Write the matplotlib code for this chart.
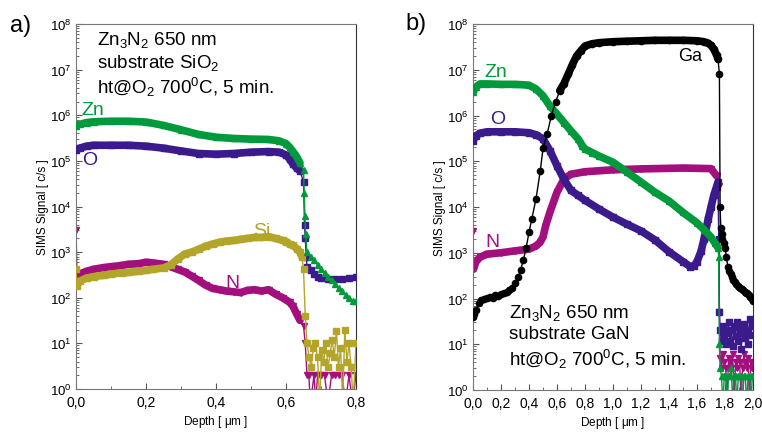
import matplotlib
matplotlib.use('Agg')
import matplotlib.pyplot as plt
from matplotlib.ticker import MultipleLocator, LogLocator, NullFormatter
import numpy as np

plt.rcParams['font.family'] = ['Liberation Sans', 'DejaVu Sans']
plt.rcParams['mathtext.fontset'] = 'custom'
plt.rcParams['mathtext.rm'] = 'Liberation Sans'
plt.rcParams['mathtext.it'] = 'Liberation Sans'
plt.rcParams['mathtext.default'] = 'regular'

# ---------------- panel a) : Zn3N2 on SiO2 ----------------
zn_a_depth = [0.0, 0.01, 0.03, 0.05, 0.1, 0.15, 0.2, 0.25, 0.3, 0.35, 0.4, 0.45, 0.5, 0.55,
              0.58, 0.6, 0.61, 0.62, 0.63, 0.64, 0.65, 0.652, 0.654, 0.656, 0.66, 0.67, 0.68,
              0.69, 0.7, 0.71, 0.72, 0.73, 0.74, 0.75, 0.76, 0.77, 0.78, 0.79, 0.8]
zn_a = [5.9e5, 6.3e5, 6.9e5, 7.2e5, 7.4e5, 7.4e5, 7.1e5, 6.0e5, 4.8e5, 3.8e5, 3.3e5, 3.1e5,
        3.0e5, 2.95e5, 2.75e5, 2.4e5, 2.0e5, 1.6e5, 1.25e5, 9e4, 6.3e4, 2e4, 6.3e3, 2.5e3,
        1.0e3, 800, 660, 520, 420, 350, 280, 240, 200, 160, 140, 115, 100, 85, 83]

o_a_depth = [0.0, 0.01, 0.03, 0.05, 0.1, 0.15, 0.2, 0.25, 0.3, 0.35, 0.4, 0.45, 0.5, 0.55,
             0.58, 0.6, 0.61, 0.62, 0.63, 0.64, 0.65, 0.653, 0.655, 0.658, 0.66, 0.67, 0.68,
             0.69, 0.7, 0.72, 0.74, 0.76, 0.78, 0.8]
o_a = [1.7e5, 1.9e5, 2.1e5, 2.2e5, 2.2e5, 2.2e5, 2.1e5, 1.9e5, 1.65e5, 1.45e5, 1.4e5, 1.45e5,
       1.55e5, 1.6e5, 1.55e5, 1.35e5, 1.1e5, 8.5e4, 7e4, 6e4, 3.5e4, 4e3, 2e3, 800, 480, 400,
       330, 290, 270, 260, 255, 260, 270, 285]

n_a_depth = [0.0, 0.003, 0.01, 0.03, 0.05, 0.08, 0.1, 0.13, 0.15, 0.18, 0.2, 0.22, 0.25, 0.27,
             0.29, 0.31, 0.33, 0.35, 0.37, 0.39, 0.41, 0.43, 0.45, 0.47, 0.49, 0.51, 0.53,
             0.55, 0.57, 0.59, 0.61, 0.62, 0.63, 0.64, 0.65, 0.655,
             0.66, 0.665, 0.67, 0.68, 0.685, 0.69, 0.7, 0.71, 0.72, 0.73, 0.74, 0.75, 0.76,
             0.77, 0.78, 0.79, 0.8]
n_a = [3000, 280, 330, 380, 420, 460, 480, 510, 540, 560, 600, 580, 540, 480, 420, 370, 300,
       240, 190, 160, 150, 140, 135, 130, 145, 150, 140, 150, 120, 100, 80, 65, 45, 32, 24, 10,
       2, 2, 0.5, 2, 0.5, 2, 2, 2, 0.5, 2, 2, 2, 2, 0.5, 2, 0.5, 2]

si_a_depth = [0.0, 0.003, 0.01, 0.03, 0.05, 0.08, 0.1, 0.13, 0.15, 0.18, 0.2, 0.22, 0.25,
              0.27, 0.29, 0.31, 0.33, 0.35, 0.37, 0.39, 0.41, 0.43, 0.45, 0.47, 0.49, 0.51,
              0.53, 0.55, 0.57, 0.59, 0.6, 0.61, 0.62, 0.63, 0.64, 0.645, 0.65, 0.655,
              0.66, 0.666, 0.672, 0.678, 0.684, 0.69, 0.696, 0.702, 0.708, 0.714, 0.72, 0.726,
              0.732, 0.738, 0.744, 0.75, 0.756, 0.762, 0.768, 0.774, 0.78, 0.786, 0.792, 0.8]
si_a = [430, 180, 230, 270, 290, 310, 330, 350, 360, 380, 400, 420, 450, 520, 700, 900, 1000,
        1150, 1350, 1500, 1650, 1750, 1800, 1900, 2000, 2100, 2100, 2200, 2000, 1800, 1700,
        1500, 1400, 1200, 1000, 800, 420, 40,
        10, 5, 3, 8, 10, 5, 0.5, 7, 4, 10, 3, 6, 12, 5, 19, 3, 8, 0.5, 20, 4, 10, 3, 0.5, 10]

# ---------------- panel b) : Zn3N2 on GaN ----------------
ga_b_depth = [0.0, 0.01, 0.02, 0.04, 0.06, 0.08, 0.1, 0.12, 0.14, 0.16, 0.18, 0.2, 0.22, 0.24,
              0.26, 0.28, 0.3, 0.32, 0.34, 0.36, 0.38, 0.4, 0.42, 0.45, 0.48, 0.5, 0.53, 0.56,
              0.59, 0.62, 0.65, 0.68, 0.71, 0.74, 0.77, 0.8, 0.85, 0.9, 1.0, 1.1, 1.2, 1.3,
              1.4, 1.5, 1.6, 1.65, 1.68, 1.7, 1.72, 1.74, 1.75, 1.76, 1.765, 1.77, 1.775, 1.78,
              1.79, 1.8, 1.81, 1.82, 1.83, 1.84, 1.85, 1.86, 1.87, 1.88, 1.89, 1.9, 1.91, 1.92,
              1.93, 1.94, 1.95, 1.96, 1.97, 1.98, 1.99, 2.0]
ga_b = [40, 45, 55, 80, 95, 100, 105, 110, 105, 120, 115, 125, 130, 140, 150, 170, 220, 290,
        420, 700, 1300, 2800, 5500, 1.5e4, 6e4, 1.9e5, 4e5, 1e6, 2e6, 3.5e6, 5e6, 8e6, 1.3e7,
        2e7, 2.6e7, 3.3e7, 3.7e7, 3.9e7, 4.1e7, 4.2e7, 4.3e7, 4.4e7, 4.4e7, 4.4e7, 4.3e7,
        4.1e7, 3.8e7, 3.4e7, 2.8e7, 2.1e7, 1.7e7, 8e6, 1e4, 3500, 2600, 2000, 1600, 1300, 800,
        500, 400, 350, 300, 260, 230, 210, 190, 180, 170, 160, 150, 140, 135, 130, 120, 110,
        100, 90]

zn_b_depth = [0.0, 0.02, 0.05, 0.1, 0.2, 0.3, 0.4, 0.45, 0.5, 0.55, 0.6, 0.65, 0.7, 0.75,
              0.77, 0.78, 0.8, 0.85, 0.9, 1.0, 1.1, 1.2, 1.3, 1.4, 1.5, 1.6, 1.65, 1.7, 1.73,
              1.75, 1.755, 1.76,
              1.765, 1.775, 1.785, 1.795, 1.805, 1.815, 1.825, 1.835, 1.845, 1.855, 1.865,
              1.875, 1.885, 1.895, 1.905, 1.915, 1.925, 1.935, 1.945, 1.955, 1.965, 1.975,
              1.985, 1.995]
zn_b = [3.2e6, 4.2e6, 4.9e6, 4.9e6, 4.8e6, 4.8e6, 4.6e6, 3.8e6, 2.7e6, 1.6e6, 1.07e6, 7e5,
        4.6e5, 3.1e5, 2.5e5, 2.2e5, 1.85e5, 1.55e5, 1.3e5, 9.5e4, 5.8e4, 3.5e4, 2.1e4,
        1.35e4, 7.6e3, 4.5e3, 3.2e3, 2.2e3, 1.6e3, 1.3e3, 800, 10,
        3, 2, 0.5, 2, 2, 0.5, 2, 2, 3, 0.5, 2, 2, 0.5, 2, 2, 2, 0.5, 2, 2, 0.5, 2, 2, 0.5, 2]

o_b_depth = [0.0, 0.02, 0.05, 0.1, 0.2, 0.3, 0.4, 0.45, 0.5, 0.55, 0.6, 0.65, 0.7, 0.75, 0.8,
             0.9, 1.0, 1.1, 1.2, 1.3, 1.4, 1.5, 1.55, 1.58, 1.6, 1.63, 1.65, 1.68, 1.7, 1.72,
             1.74, 1.75, 1.755, 1.76,
             1.765, 1.775, 1.785, 1.795, 1.805, 1.815, 1.825, 1.835, 1.845, 1.855, 1.865,
             1.875, 1.885, 1.895, 1.905, 1.915, 1.925, 1.935, 1.945, 1.955, 1.965, 1.975,
             1.985, 1.995]
o_b = [2.8e5, 3.6e5, 4.1e5, 4.4e5, 4.4e5, 4.4e5, 4.2e5, 3.8e5, 3.1e5, 1.7e5, 8e4, 4e4,
       2.3e4, 1.8e4, 1.4e4, 9e3, 6e3, 4.2e3, 3e3, 1.9e3, 1.05e3, 640, 500, 520, 640, 1.1e3,
       2e3, 5.5e3, 1e4, 1.8e4, 2.8e4, 3.5e4, 2e3, 50,
       20, 12, 25, 15, 10, 18, 30, 12, 20, 9, 25, 15, 30, 12, 22, 8, 18, 28, 14, 20, 10, 35,
       16, 25]

n_b_depth = [0.0, 0.005, 0.02, 0.05, 0.1, 0.2, 0.3, 0.4, 0.45, 0.48, 0.5, 0.52, 0.55, 0.6,
             0.65, 0.7, 0.8, 1.0, 1.2, 1.5, 1.7, 1.74, 1.755, 1.76,
             1.765, 1.775, 1.785, 1.795, 1.805, 1.815, 1.825, 1.835, 1.845, 1.855, 1.865,
             1.875, 1.885, 1.895, 1.905, 1.915, 1.925, 1.935, 1.945, 1.955, 1.965, 1.975,
             1.985, 1.995]
n_b = [3000, 450, 630, 800, 930, 1000, 1100, 1200, 1400, 1700, 2200, 4000, 7.8e3, 2.1e4,
       4.1e4, 5.2e4, 5.9e4, 6.5e4, 6.8e4, 7.1e4, 6.9e4, 4.8e4, 2.9e4, 50,
       5, 3, 6, 4, 3, 0.5, 5, 4, 3, 6, 0.5, 4, 3, 5, 4, 0.5, 3, 6, 4, 3, 5, 0.5, 4, 3]

xticks_a = [0.0, 0.2, 0.4, 0.6, 0.8]
xticks_b = [0.0, 0.2, 0.4, 0.6, 0.8, 1.0, 1.2, 1.4, 1.6, 1.8, 2.0]

GREEN = '#009a3c'
PURPLE = '#3b1a8c'
MAGENTA = '#a3107e'
OLIVE = '#b3a52a'
BLACK = '#000000'


def trace(ax, x, y, color, marker, film_end, z, film_start=0.0):
    x = np.asarray(x)
    y = np.asarray(y)
    # dense-marker band in the film
    m = (x <= film_end) & (x >= film_start)
    ax.plot(x[m], y[m], color=color, lw=5.5, solid_capstyle='round', zorder=z)
    ax.plot(x, y, color=color, lw=1, marker=marker, ms=4.5, mec=color, mfc=color, zorder=z)


def style(ax, xmax, xticks):
    ax.set_yscale('log')
    ax.set_ylim(1, 1e8)
    ax.set_xlim(0, xmax)
    ax.set_xticks(xticks)
    ax.set_xticklabels([('%.1f' % t).replace('.', ',') for t in xticks])
    ax.xaxis.set_minor_locator(MultipleLocator(0.1))
    ax.yaxis.set_major_locator(LogLocator(base=10, numticks=20))
    ax.yaxis.set_minor_locator(LogLocator(base=10, subs=np.arange(2, 10), numticks=20))
    ax.yaxis.set_minor_formatter(NullFormatter())
    ax.tick_params(which='both', direction='in', top=False, right=False, labelsize=9.5,
                   color='#555555', pad=3)
    ax.tick_params(axis='x', labelsize=10, pad=4)
    ax.tick_params(which='major', length=4, width=0.8)
    ax.tick_params(which='minor', length=2.5, width=0.6)
    for s in ['left', 'bottom', 'top']:
        ax.spines[s].set_color('#777777')
    ax.spines['right'].set_color('#333333')
    ax.set_xlabel('Depth [ $\\mu$m ]', fontsize=8.5, labelpad=3)
    ax.set_ylabel('SIMS Signal [ c/s ]', fontsize=8.5, labelpad=1)


fig = plt.figure(figsize=(7.62, 4.39), dpi=100)

ax1 = fig.add_axes([76 / 762, 49 / 439, 280 / 762, 365 / 439])
trace(ax1, o_a_depth, o_a, PURPLE, 's', 0.645, 3)
trace(ax1, zn_a_depth, zn_a, GREEN, '^', 0.645, 4)
trace(ax1, n_a_depth, n_a, MAGENTA, 'v', 0.645, 2, 0.003)
trace(ax1, si_a_depth, si_a, OLIVE, 's', 0.645, 3, 0.003)
style(ax1, 0.8, xticks_a)
ax1.text(0.075, 0.985, 'Zn$_3$N$_2$ 650 nm\nsubstrate SiO$_2$\nht@O$_2$ 700$^0$C, 5 min.',
         transform=ax1.transAxes, fontsize=13.5, va='top', linespacing=1.15)
ax1.text(0.06, 0.767, 'Zn', transform=ax1.transAxes, fontsize=14, color=GREEN,
         ha='center', va='center')
ax1.text(0.05, 0.63, 'O', transform=ax1.transAxes, fontsize=14, color=PURPLE,
         ha='center', va='center')
ax1.text(0.664, 0.433, 'Si', transform=ax1.transAxes, fontsize=14, color=OLIVE,
         ha='center', va='center')
ax1.text(0.557, 0.293, 'N', transform=ax1.transAxes, fontsize=14, color=MAGENTA,
         ha='center', va='center')
fig.text(10 / 762, 1 - 32 / 439, 'a)', fontsize=17)

ax2 = fig.add_axes([473 / 762, 48 / 439, 280 / 762, 366 / 439])
trace(ax2, n_b_depth, n_b, MAGENTA, 'v', 1.75, 2, 0.005)
trace(ax2, o_b_depth, o_b, PURPLE, 's', 1.75, 3)
trace(ax2, zn_b_depth, zn_b, GREEN, '^', 1.75, 4)
trace(ax2, ga_b_depth, ga_b, BLACK, 'o', 1.75, 5, 0.62)
style(ax2, 2.0, xticks_b)
ax2.text(0.129, 0.24, 'Zn$_3$N$_2$ 650 nm\nsubstrate GaN\nht@O$_2$ 700$^0$C, 5 min.',
         transform=ax2.transAxes, fontsize=13.5, va='top', linespacing=1.25)
ax2.text(0.775, 0.913, 'Ga', transform=ax2.transAxes, fontsize=13, color=BLACK,
         ha='center', va='center')
ax2.text(0.082, 0.869, 'Zn', transform=ax2.transAxes, fontsize=14, color=GREEN,
         ha='center', va='center')
ax2.text(0.089, 0.743, 'O', transform=ax2.transAxes, fontsize=14, color=PURPLE,
         ha='center', va='center')
ax2.text(0.071, 0.407, 'N', transform=ax2.transAxes, fontsize=14, color=MAGENTA,
         ha='center', va='center')
fig.text(405 / 762, 1 - 30 / 439, 'b)', fontsize=17)

fig.savefig('out.png', dpi=100)
